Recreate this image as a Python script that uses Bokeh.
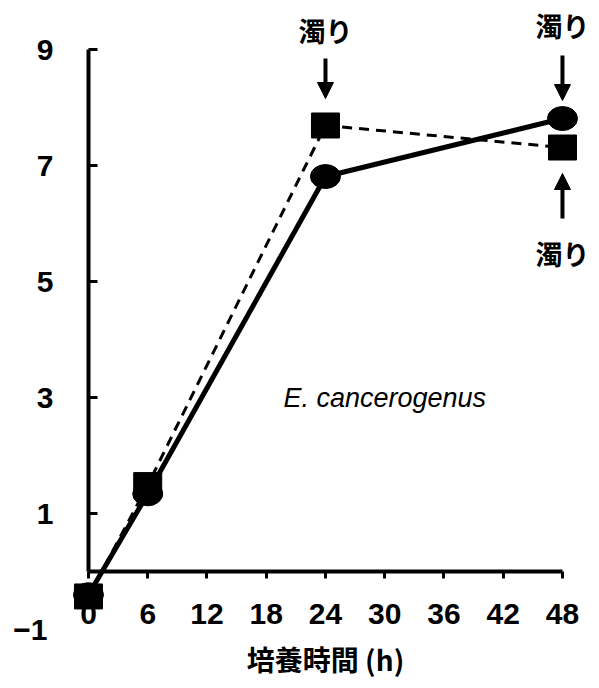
from bokeh.plotting import figure
from bokeh.models import (Range1d, LinearAxis, FixedTicker, Arrow, NormalHead,
                          ColumnDataSource)
from bokeh.core.properties import value
from bokeh.embed import file_html
from bokeh.resources import INLINE

# ---- data ----
hours = [0, 6, 24, 48]
circle_vals = [-0.40, 1.34, 6.81, 7.81]   # solid line, circles
square_vals = [-0.43, 1.49, 7.69, 7.31]   # dashed line, squares
x_ticks = [0, 6, 12, 18, 24, 30, 36, 42, 48]
y_ticks = [1, 3, 5, 7, 9]
x_label = "培養時間 (h)"
species = "E. cancerogenus"
turbid = "濁り"

W, H = 599, 688
x_lo, x_hi = -8.91, 51.75
y_lo, y_hi = -2.017, 9.845
upp = (y_hi - y_lo) / H  # data units per pixel (vertical)

p = figure(width=W, height=H, output_backend="svg", toolbar_location=None,
           x_range=Range1d(x_lo, x_hi), y_range=Range1d(y_lo, y_hi),
           x_axis_type=None, y_axis_type=None,
           min_border=0, outline_line_color=None)
p.xgrid.visible = False
p.ygrid.visible = False
p.background_fill_color = "white"

NUM_FONT = "Liberation Sans"
JP_FONT = "Noto Sans CJK JP"

# x axis at y = 0
xa = LinearAxis(fixed_location=0, bounds=(0, 48), ticker=FixedTicker(ticks=x_ticks),
                axis_line_width=4, major_tick_line_width=3,
                major_tick_in=0, major_tick_out=7, minor_tick_line_color=None,
                major_label_text_font=NUM_FONT, major_label_text_font_style="bold",
                major_label_text_font_size="30px", major_label_standoff=25,
                major_label_text_color="black",
                axis_label=x_label, axis_label_text_font=JP_FONT,
                axis_label_text_font_style="bold", axis_label_text_font_size="28px",
                axis_label_standoff=12, axis_label_text_color="black")
p.add_layout(xa, "below")

# y axis at x = 0
ya = LinearAxis(fixed_location=0, bounds=(0, 9), ticker=FixedTicker(ticks=y_ticks),
                axis_line_width=4, major_tick_line_width=3,
                major_tick_in=9, major_tick_out=0, minor_tick_line_color=None,
                major_label_text_font=NUM_FONT, major_label_text_font_style="bold",
                major_label_text_font_size="30px", major_label_standoff=35,
                major_label_text_color="black")
p.add_layout(ya, "left")

ya2 = LinearAxis(fixed_location=0, ticker=FixedTicker(ticks=[-1]),
                 axis_line_color=None, major_tick_line_color=None,
                 minor_tick_line_color=None,
                 major_label_overrides={-1: "\u22121"},
                 major_label_text_font=NUM_FONT, major_label_text_font_style="bold",
                 major_label_text_font_size="30px", major_label_standoff=35,
                 major_label_text_color="black")
p.add_layout(ya2, "left")

src_c = ColumnDataSource(dict(x=hours, y=circle_vals))
src_s = ColumnDataSource(dict(x=hours, y=square_vals))

p.line("x", "y", source=src_s, line_color="black", line_width=3, line_dash="10 7")
p.line("x", "y", source=src_c, line_color="black", line_width=5)
p.ellipse("x", "y", source=src_c, width=30, height=24, width_units="screen",
          height_units="screen", fill_color="black", line_color="black")
p.rect("x", "y", source=src_s, width=28, height=25, width_units="screen",
       height_units="screen", fill_color="black", line_color="black")

# annotations "濁り" with arrows: (x, y, arrow start px, arrow tip px, text px); + is up
notes = [
    (hours[2], square_vals[2], 67, 27, 95),
    (hours[3], circle_vals[3], 63, 18, 93),
    (hours[3], square_vals[3], -71, -26, -106),
]
for (xv, yv, s_px, e_px, t_px) in notes:
    p.add_layout(Arrow(x_start=xv, y_start=yv + s_px * upp, x_end=xv, y_end=yv + e_px * upp,
                       line_width=4, line_color="black",
                       end=NormalHead(size=16, fill_color="black", line_color="black")))
    p.text(x=[xv], y=[yv], text=[turbid], y_offset=-t_px, text_align="center",
           text_baseline="middle", text_font=value(JP_FONT), text_font_style="bold",
           text_font_size="27px", text_color="black")

p.text(x=[30], y=[3], text=[species], text_align="center", text_baseline="middle",
       text_font=value("Liberation Sans"), text_font_style="italic",
       text_font_size="27px", text_color="black")

open("out.html", "w").write(file_html(p, INLINE))
